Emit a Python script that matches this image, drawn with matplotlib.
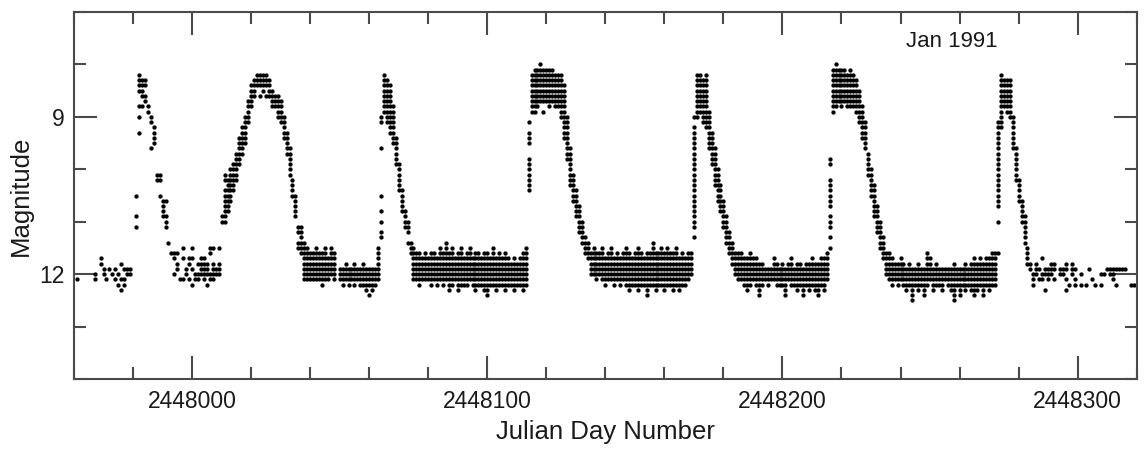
import numpy as np
import matplotlib
matplotlib.use("Agg")
import matplotlib.pyplot as plt
from matplotlib.ticker import FixedLocator, MultipleLocator, FixedFormatter
import matplotlib.transforms as mtransforms

plt.rcParams['font.family'] = ['Liberation Sans', 'DejaVu Sans']

JD_ZERO = 2448000

# Visual estimates, quantised to 0.1 mag.
# Each entry: (day after JD 2448000, brightest estimate, faintest estimate that day)
quiet_a = [(-39, 12.1, 12.1), (-33, 12.0, 12.1), (-31, 11.7, 11.8), (-30, 11.9, 12.0),
           (-29, 12.1, 12.1), (-28, 11.9, 11.9), (-27, 12.0, 12.0), (-26, 11.9, 11.9),
           (-26, 12.1, 12.1), (-25, 12.0, 12.0), (-25, 12.2, 12.2), (-24, 11.8, 11.8),
           (-24, 12.1, 12.1), (-24, 12.3, 12.3), (-23, 11.9, 11.9), (-23, 12.1, 12.2),
           (-22, 11.9, 12.0), (-21, 11.9, 12.0)]

outburst_1 = [(-19, 10.5, 10.5), (-19, 10.9, 10.9), (-19, 11.1, 11.1),
              (-18, 8.2, 8.5), (-18, 8.8, 8.8), (-18, 9.0, 9.0), (-18, 9.3, 9.3),
              (-17, 8.3, 8.6), (-17, 8.8, 8.8), (-16, 8.3, 8.4), (-16, 8.6, 8.7),
              (-15, 8.8, 8.9), (-14, 9.0, 9.1), (-14, 9.6, 9.6), (-13, 9.2, 9.5),
              (-12, 10.1, 10.2), (-11, 10.1, 10.2), (-11, 10.5, 10.5),
              (-10, 10.6, 10.9), (-9, 10.6, 10.6), (-9, 10.9, 11.1), (-8, 11.4, 11.4)]

quiet_b = [(-7, 11.6, 11.6), (-6, 11.6, 11.7), (-6, 12.0, 12.0), (-5, 11.6, 11.6),
           (-5, 11.8, 11.9), (-4, 12.1, 12.1), (-3, 11.5, 11.5), (-3, 11.7, 11.7),
           (-3, 12.1, 12.1), (-2, 11.9, 12.0), (-1, 11.7, 11.8), (-1, 12.1, 12.1),
           (0, 11.5, 11.5), (0, 11.7, 11.7), (0, 11.9, 11.9), (0, 12.2, 12.2),
           (1, 12.0, 12.1), (2, 11.8, 11.8), (2, 12.0, 12.1), (3, 11.7, 12.0),
           (4, 11.7, 12.1), (5, 11.8, 12.0), (5, 12.2, 12.2), (6, 11.5, 11.6),
           (6, 12.0, 12.1), (7, 11.5, 11.5), (7, 11.8, 12.1), (8, 11.9, 12.0),
           (9, 11.5, 11.5), (9, 11.8, 12.0)]

outburst_2 = [(10, 10.9, 11.0), (11, 10.1, 10.2), (11, 10.4, 11.0), (12, 10.2, 10.8),
              (13, 10.0, 10.6), (14, 9.9, 10.4), (15, 9.7, 10.2), (16, 9.4, 9.9),
              (17, 9.2, 9.7), (18, 9.0, 9.5), (19, 8.7, 9.1), (20, 8.4, 8.8),
              (21, 8.3, 8.6), (22, 8.2, 8.4), (23, 8.2, 8.4), (23, 8.6, 8.6),
              (24, 8.2, 8.5), (25, 8.2, 8.4), (25, 8.6, 8.6), (26, 8.3, 8.6),
              (27, 8.5, 8.8), (28, 8.6, 8.8), (29, 8.6, 9.0), (30, 8.7, 9.1),
              (31, 9.0, 9.4), (32, 9.3, 9.7), (33, 9.6, 10.1), (34, 10.2, 10.5),
              (35, 10.5, 10.9), (36, 11.1, 11.2), (36, 11.4, 11.5), (37, 11.1, 11.6)]

quiet_c = [(38, 11.4, 12.1), (39, 11.5, 12.1), (40, 11.6, 12.1), (41, 11.6, 12.1),
           (42, 11.5, 12.1), (43, 11.6, 12.1), (44, 11.6, 12.2), (45, 11.5, 12.1),
           (46, 11.7, 12.1), (47, 11.5, 12.0), (48, 11.6, 12.1), (50, 11.9, 12.1),
           (51, 11.9, 12.2), (52, 11.8, 12.1), (53, 11.9, 12.2), (54, 11.9, 12.1),
           (55, 11.8, 12.2), (56, 11.9, 12.1), (57, 11.9, 12.2), (58, 11.8, 12.2),
           (59, 11.9, 12.3), (60, 11.9, 12.2), (60, 12.4, 12.4), (61, 11.9, 12.3),
           (62, 11.9, 12.2), (63, 11.5, 12.1)]

outburst_3 = [(64, 9.0, 9.1), (64, 9.6, 9.6), (64, 10.5, 10.5), (64, 10.8, 10.8),
              (64, 11.0, 11.0), (64, 11.2, 11.3), (65, 8.2, 8.9), (66, 8.3, 9.1),
              (67, 8.4, 9.3), (68, 8.8, 9.5), (69, 9.4, 9.9), (70, 9.9, 10.4),
              (71, 10.4, 10.8), (72, 10.8, 11.1), (73, 11.0, 11.2), (73, 11.4, 11.4),
              (74, 11.4, 11.6)]

quiet_d = [(75, 11.5, 12.1), (76, 11.6, 12.1), (77, 11.6, 12.2), (78, 11.7, 12.1),
           (79, 11.6, 12.1), (80, 11.7, 12.1), (81, 11.6, 12.2), (82, 11.6, 12.1),
           (83, 11.7, 12.2), (84, 11.5, 12.1), (85, 11.6, 12.2), (86, 11.4, 12.1),
           (87, 11.6, 12.3), (88, 11.5, 12.2), (89, 11.7, 12.1), (90, 11.6, 12.3),
           (91, 11.5, 12.2), (92, 11.7, 12.2), (93, 11.6, 12.2), (94, 11.5, 12.1),
           (95, 11.7, 12.2), (96, 11.6, 12.3), (97, 11.6, 12.2), (98, 11.7, 12.2),
           (99, 11.6, 12.3), (100, 11.6, 12.4), (101, 11.7, 12.2), (102, 11.5, 12.2),
           (103, 11.7, 12.3), (104, 11.6, 12.2), (105, 11.7, 12.2), (106, 11.6, 12.3),
           (107, 11.7, 12.2), (108, 11.8, 12.2), (109, 11.7, 12.3), (110, 11.8, 12.2),
           (111, 11.7, 12.2), (112, 11.6, 12.3), (113, 11.5, 12.2)]

outburst_4 = [(114, 9.1, 9.1), (114, 9.3, 9.5), (114, 9.8, 10.4), (115, 8.2, 8.9),
              (116, 8.1, 8.9), (117, 8.1, 8.8), (118, 8.0, 8.7), (119, 8.1, 8.7),
              (119, 8.9, 8.9), (120, 8.1, 8.7), (121, 8.1, 8.8), (122, 8.1, 8.7),
              (123, 8.2, 8.8), (124, 8.2, 8.8), (125, 8.2, 9.0), (126, 8.4, 9.4),
              (127, 9.0, 9.8), (128, 9.6, 10.3), (129, 10.1, 10.6), (130, 10.4, 10.9),
              (131, 10.7, 11.2), (132, 11.0, 11.4), (133, 11.3, 11.6), (134, 11.4, 11.7)]

quiet_e = [(135, 11.6, 12.0), (136, 11.5, 12.0), (137, 11.6, 12.1), (138, 11.6, 12.0),
           (139, 11.5, 12.1), (140, 11.7, 12.2), (141, 11.6, 12.1), (142, 11.5, 12.1),
           (143, 11.7, 12.2), (144, 11.6, 12.1), (145, 11.7, 12.2), (146, 11.6, 12.1),
           (147, 11.5, 12.2), (148, 11.6, 12.3), (149, 11.7, 12.2), (150, 11.6, 12.2),
           (151, 11.5, 12.3), (152, 11.6, 12.2), (153, 11.7, 12.2), (154, 11.6, 12.4),
           (155, 11.6, 12.2), (156, 11.4, 12.2), (157, 11.6, 12.3), (158, 11.6, 12.2),
           (159, 11.5, 12.2), (160, 11.6, 12.3), (161, 11.5, 12.2), (162, 11.6, 12.2),
           (163, 11.6, 12.3), (164, 11.5, 12.2), (165, 11.7, 12.3), (166, 11.6, 12.2),
           (167, 11.7, 12.2), (168, 11.6, 12.1), (169, 11.6, 12.0)]

outburst_5 = [(170, 9.0, 9.0), (170, 9.2, 11.1), (170, 11.3, 11.3), (171, 8.2, 9.0),
              (172, 8.2, 8.9), (173, 8.3, 9.1), (174, 8.2, 9.2), (175, 8.9, 9.6),
              (176, 9.3, 9.9), (177, 9.6, 10.3), (178, 10.0, 10.6), (179, 10.3, 10.8),
              (180, 10.6, 11.1), (181, 10.9, 11.4), (182, 11.2, 11.6), (183, 11.4, 11.8)]

quiet_f = [(184, 11.6, 12.0), (185, 11.6, 12.1), (186, 11.6, 12.1), (187, 11.7, 12.2),
           (188, 11.7, 12.3), (189, 11.6, 12.2), (190, 11.7, 12.1), (191, 11.7, 12.2),
           (192, 11.8, 12.4), (193, 11.8, 12.2), (194, 11.9, 12.1), (195, 11.9, 12.2),
           (196, 11.9, 12.1), (197, 11.7, 12.1), (198, 11.8, 12.2), (199, 11.9, 12.2),
           (200, 11.8, 12.2), (201, 11.9, 12.4), (202, 11.8, 12.1), (203, 11.7, 12.2),
           (204, 11.9, 12.2), (205, 11.8, 12.3), (206, 11.8, 12.2), (207, 11.9, 12.4),
           (208, 11.8, 12.2), (209, 11.8, 12.3), (210, 11.7, 12.2), (211, 11.8, 12.3),
           (212, 11.8, 12.4), (213, 11.7, 12.2), (214, 11.7, 12.3), (215, 11.6, 12.1)]

outburst_6 = [(216, 9.8, 9.9), (216, 10.2, 10.7), (216, 10.9, 11.1), (216, 11.3, 11.3),
              (216, 11.5, 11.5), (217, 8.1, 8.9), (218, 8.0, 8.8), (219, 8.1, 8.7),
              (220, 8.1, 8.8), (221, 8.1, 8.7), (222, 8.2, 8.8), (223, 8.1, 8.8),
              (224, 8.2, 8.8), (225, 8.3, 8.9), (226, 8.5, 9.1), (227, 8.8, 9.4),
              (228, 9.1, 9.6), (229, 9.7, 10.1), (230, 10.0, 10.5), (231, 10.3, 10.9),
              (232, 10.7, 11.2), (233, 11.0, 11.5), (234, 11.3, 11.7)]

quiet_g = [(235, 11.6, 12.0), (236, 11.6, 12.1), (237, 11.7, 12.2), (238, 11.8, 12.1),
           (239, 11.8, 12.2), (240, 11.7, 12.1), (241, 11.8, 12.2), (242, 11.9, 12.3),
           (243, 11.8, 12.2), (244, 11.9, 12.5), (245, 11.9, 12.2), (246, 11.8, 12.3),
           (247, 11.9, 12.2), (248, 11.9, 12.4), (249, 11.6, 12.2), (250, 11.7, 12.1),
           (251, 11.9, 12.3), (252, 11.8, 12.2), (253, 11.9, 12.2), (254, 11.9, 12.3),
           (255, 11.9, 12.1), (256, 11.9, 12.2), (257, 11.9, 12.3), (258, 11.8, 12.5),
           (259, 11.9, 12.2), (260, 11.9, 12.4), (261, 11.9, 12.2), (262, 11.8, 12.3),
           (263, 11.9, 12.2), (264, 11.8, 12.3), (265, 11.7, 12.4), (266, 11.8, 12.3),
           (267, 11.7, 12.2), (268, 11.8, 12.4), (269, 11.7, 12.2), (270, 11.7, 12.3),
           (271, 11.6, 12.2), (272, 11.6, 12.2)]

outburst_7 = [(273, 9.1, 10.7), (273, 11.0, 11.0), (273, 11.6, 11.6), (274, 8.2, 9.2),
              (275, 8.3, 8.8), (276, 8.3, 8.9), (277, 8.3, 9.0), (278, 9.0, 9.6),
              (279, 9.6, 10.2), (280, 10.2, 10.6), (281, 10.6, 11.0), (282, 10.9, 11.4),
              (283, 11.5, 11.8)]

# Sparse single estimates at the end of the season: (day, magnitude)
late_day = [284, 284, 285, 285, 285, 286, 286, 286, 287, 287, 288, 288, 288, 289, 289, 289,
            290, 290, 290, 291, 291, 291, 292, 292, 292, 294, 294, 295, 295, 296, 296, 296,
            296, 297, 298, 298, 298, 299, 299, 299, 301, 301, 303, 304, 305, 306, 308, 308,
            309, 310, 311, 311, 312, 312, 312, 313, 313, 314, 315, 316, 318, 319]
late_mag = [11.8, 11.9, 12.0, 12.1, 12.2, 11.8, 11.9, 12.0, 11.9, 12.1, 11.7, 12.0, 12.1,
            11.9, 12.0, 12.3, 11.9, 12.0, 12.1, 11.8, 11.9, 12.0, 11.8, 11.9, 12.1, 11.9,
            12.0, 11.9, 12.0, 11.8, 11.9, 12.1, 12.3, 12.2, 11.8, 11.9, 12.0, 11.9, 12.1,
            12.2, 12.0, 12.2, 12.2, 11.9, 12.1, 12.2, 12.0, 12.2, 12.0, 11.9, 11.9, 12.0,
            11.9, 12.0, 12.1, 11.9, 12.2, 11.9, 11.9, 11.9, 12.2, 12.2]

x_ticks = [2448000, 2448100, 2448200, 2448300]
x_tick_labels = ['2448000', '2448100', '2448200', '2448300']
y_ticks = [9, 12]
y_tick_labels = ['9', '12']


def expand(segments):
    xs, ys = [], []
    for d, bright, faint in segments:
        n = int(round((faint - bright) / 0.1)) + 1
        for k in range(n):
            xs.append(JD_ZERO + d)
            ys.append(round(bright + 0.1 * k, 1))
    return xs, ys


fig = plt.figure(figsize=(11.44, 4.55), dpi=100)
ax = fig.add_axes([0.0647, 0.167, 0.9289, 0.8066])

spine_c = '#4a4a4a'
dot_ms = 3.1
for group in [quiet_a, outburst_1, quiet_b, outburst_2, quiet_c, outburst_3, quiet_d,
              outburst_4, quiet_e, outburst_5, quiet_f, outburst_6, quiet_g, outburst_7]:
    xs, ys = expand(group)
    ax.plot(xs, ys, 'o', ms=dot_ms, color='black', mec='none')
ax.plot([JD_ZERO + d for d in late_day], late_mag, 'o', ms=dot_ms, color='black', mec='none')

ax.set_xlim(2447960, 2448320)
ax.set_ylim(14, 7)

ax.xaxis.set_major_locator(FixedLocator(x_ticks))
ax.xaxis.set_major_formatter(FixedFormatter(x_tick_labels))
ax.xaxis.set_minor_locator(MultipleLocator(20))
ax.yaxis.set_major_locator(FixedLocator(y_ticks))
ax.yaxis.set_major_formatter(FixedFormatter(y_tick_labels))
ax.yaxis.set_minor_locator(MultipleLocator(1))

ax.tick_params(which='both', direction='in', top=True, right=True, color=spine_c,
               width=1.5, labelsize=16.5, labelcolor='#1a1a1a')
ax.tick_params(which='major', length=16.5)
ax.tick_params(which='minor', length=8.5)
ax.tick_params(axis='x', which='major', pad=8)
ax.tick_params(axis='y', which='major', pad=7)

for s in ax.spines.values():
    s.set_color(spine_c)
    s.set_linewidth(1.5)

ax.set_xlabel('Julian Day Number', fontsize=18.5, color='#1a1a1a')
ax.set_ylabel('Magnitude', fontsize=18.5, color='#1a1a1a')
ax.xaxis.set_label_coords(0.5, -0.112)
ax.yaxis.set_label_coords(-0.039, 0.5)

trans = mtransforms.blended_transform_factory(ax.transData, ax.transAxes)
ax.text(2448257.5, 0.921, 'Jan 1991', transform=trans, ha='center', va='center',
        fontsize=16, color='#1a1a1a')

fig.savefig('out.png', dpi=100)
